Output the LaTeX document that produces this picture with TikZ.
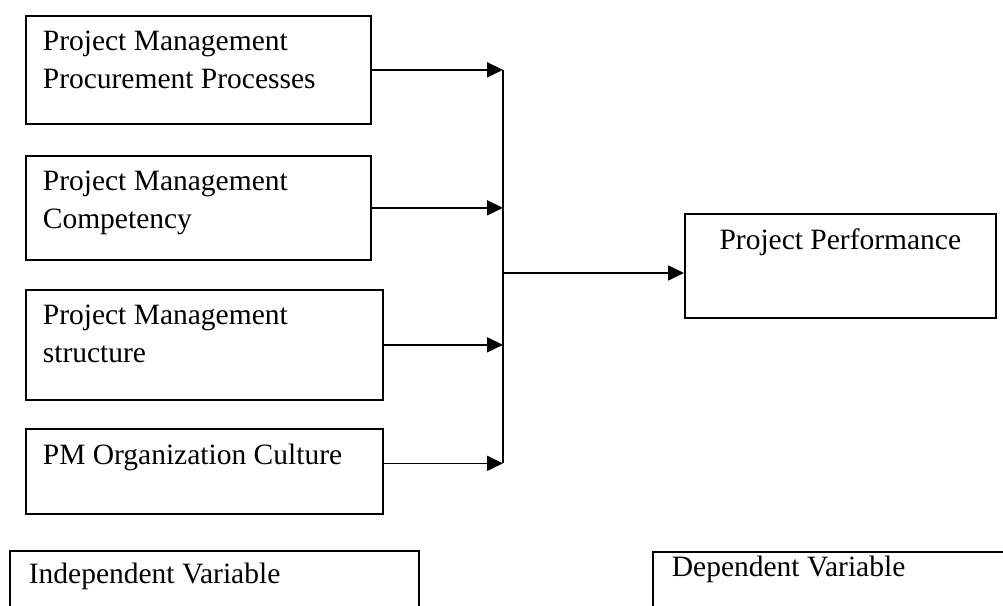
\documentclass[tikz,border=0pt]{standalone}
\usepackage{fontspec}
\setmainfont{Liberation Serif}
\usetikzlibrary{arrows.meta,positioning}

% text block, top aligned inside a box
\newcommand{\vartext}[3]{\parbox[t][#2][t]{#1}{#3}}

\begin{document}
\begin{tikzpicture}[x=1pt,y=-1pt,
  varbox/.style={draw, line width=1.7pt, inner xsep=17pt, inner ysep=15pt,
    anchor=north west, font=\fontsize{29.5}{38}\selectfont},
  link/.style={line width=1.7pt, -{Triangle[length=16pt,width=15pt]}}]

\clip (0,0) rectangle (1003,605);

% independent variables
\node[varbox] (proc) at (25,15) {\vartext{311pt}{78pt}{Project Management\\Procurement Processes}};
\node[varbox] (comp) at (25,155) {\vartext{311pt}{74pt}{Project Management\\Competency}};
\node[varbox] (struc) at (25,289) {\vartext{323pt}{80pt}{Project Management\\structure}};
\node[varbox] (cult) at (25,428) {\vartext{323pt}{55pt}{PM Organization Culture}};

% dependent variable
\node[varbox] (perf) at (684,213) {\vartext{277pt}{74pt}{\centering Project Performance}};

% legend boxes, cut by the page
\node[varbox, inner xsep=19pt, inner ysep=12pt] (indep) at (9,550) {\vartext{371pt}{60pt}{Independent Variable}};
\node[varbox, inner xsep=19pt, inner ysep=4pt] (dep) at (652,551) {\vartext{400pt}{70pt}{Dependent Variable}};

% collecting line
\coordinate (bus) at (503,0);
\coordinate (join) at (503,273);
\draw[line width=1.7pt] (proc.east -| bus) -- ([yshift=8pt]cult.east -| bus);

\draw[link] (proc.east) -- (proc.east -| bus);
\draw[link] (comp.east) -- (comp.east -| bus);
\draw[link] (struc.east) -- (struc.east -| bus);
\draw[link] ([yshift=8pt]cult.east) -- ([yshift=8pt]cult.east -| bus);

%now the output
\draw[link] (join) -- (join -| perf.west);

\end{tikzpicture}
\end{document}
